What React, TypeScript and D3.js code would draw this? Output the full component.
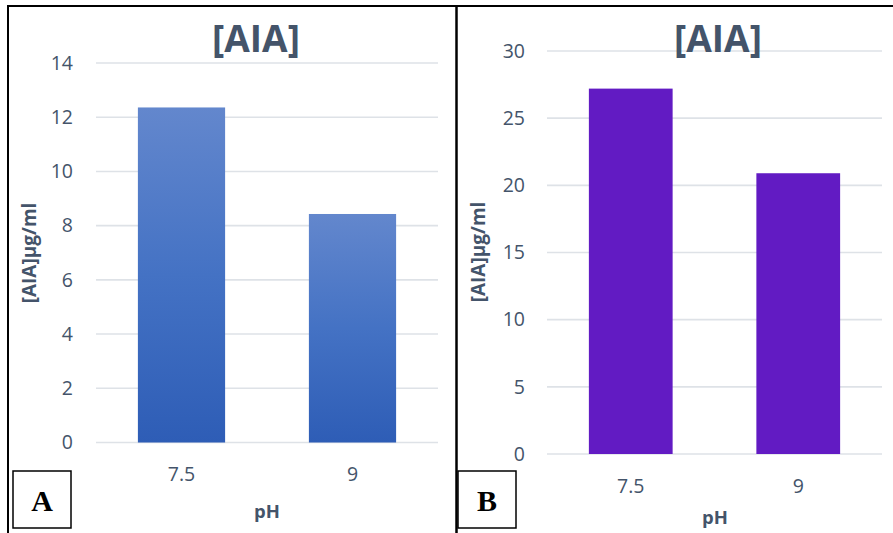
import React from "react";
import * as d3 from "d3";

// pH conditions on the x axis
const categories = ["7.5", "9"];
// IAA concentration (µg/ml) per panel
const panelAValues = [12.36, 8.43];
const panelBValues = [27.2, 20.9];
// Y axis ticks per panel
const panelATicks = [0, 2, 4, 6, 8, 10, 12, 14];
const panelBTicks = [0, 5, 10, 15, 20, 25, 30];

const W = 893;
const H = 533;
const TEXT = "#44546A";
const GRID = "#DEE2E7";
const SANS = "'Open Sans', 'Noto Sans', sans-serif";

type PanelProps = {
  values: number[];
  ticks: number[];
  yMax: number;
  x0: number;
  x1: number;
  yTop: number;
  yBottom: number;
  tickRight: number;
  xLabelY: number;
  titleX: number;
  axisTitleX: number;
  axisTitleY: number;
  yTitleX: number;
  yTitleY: number;
  fill: string;
  padding: number;
  letter: string;
  boxX: number;
};

function Panel(p: PanelProps) {
  const x = d3
    .scaleBand<string>()
    .domain(categories)
    .range([p.x0, p.x1])
    .paddingInner(p.padding)
    .paddingOuter(p.padding / 2);
  const y = d3.scaleLinear().domain([0, p.yMax]).range([p.yBottom, p.yTop]);

  return (
    <g>
      {p.ticks.map((t) => (
        <g key={t}>
          <line x1={p.x0} x2={p.x1} y1={y(t)} y2={y(t)} stroke={GRID} strokeWidth={1.6} />
          <text
            x={p.tickRight}
            y={y(t)}
            dy="0.35em"
            textAnchor="end"
            fontFamily={SANS}
            fontSize={19.5}
            fill={TEXT}
          >
            {t}
          </text>
        </g>
      ))}
      {categories.map((c, i) => (
        <rect
          key={c}
          x={x(c)}
          y={y(p.values[i])}
          width={x.bandwidth()}
          height={y(0) - y(p.values[i])}
          fill={p.fill}
        />
      ))}
      {categories.map((c) => (
        <text
          key={c}
          x={(x(c) as number) + x.bandwidth() / 2}
          y={p.xLabelY}
          dy="0.35em"
          textAnchor="middle"
          fontFamily={SANS}
          fontSize={19.5}
          fill={TEXT}
        >
          {c}
        </text>
      ))}
      <text
        x={p.titleX}
        y={39}
        dy="0.35em"
        textAnchor="middle"
        fontFamily={SANS}
        fontWeight="bold"
        fontSize={37}
        fill={TEXT}
      >
        [AIA]
      </text>
      <text
        x={p.axisTitleX}
        y={p.axisTitleY}
        dy="0.35em"
        textAnchor="middle"
        fontFamily={SANS}
        fontWeight="bold"
        fontSize={18.5}
        fill={TEXT}
      >
        pH
      </text>
      <text
        transform={`translate(${p.yTitleX},${p.yTitleY}) rotate(-90)`}
        dy="0.35em"
        textAnchor="middle"
        fontFamily={SANS}
        fontWeight="bold"
        fontSize={19}
        fill={TEXT}
      >
        [AIA]µg/ml
      </text>
      <rect
        x={p.boxX}
        y={471}
        width={58}
        height={57}
        fill="white"
        stroke="black"
        strokeWidth={1.5}
      />
      <text
        x={p.boxX + 29}
        y={500}
        dy="0.35em"
        textAnchor="middle"
        fontFamily="'Liberation Serif', 'DejaVu Serif', serif"
        fontWeight="bold"
        fontSize={30}
        fill="black"
      >
        {p.letter}
      </text>
    </g>
  );
}

export default function App() {
  return (
    <svg
      width={W}
      height={H}
      style={{ position: "absolute", left: 0, top: 0, background: "white" }}
    >
      <defs>
        <linearGradient id="blueBar" x1="0" y1="0" x2="0" y2="1">
          <stop offset="0%" stopColor="#6387CD" />
          <stop offset="50%" stopColor="#4472C4" />
          <stop offset="100%" stopColor="#2E5DB6" />
        </linearGradient>
      </defs>
      <rect x={0} y={0} width={W} height={H} fill="white" />
      <Panel
        values={panelAValues}
        ticks={panelATicks}
        yMax={14}
        x0={96}
        x1={438}
        yTop={63}
        yBottom={442.5}
        tickRight={73}
        xLabelY={474}
        titleX={256}
        axisTitleX={267}
        axisTitleY={512}
        yTitleX={29}
        yTitleY={253}
        fill="url(#blueBar)"
        padding={0.49}
        letter="A"
        boxX={13}
      />
      <Panel
        values={panelBValues}
        ticks={panelBTicks}
        yMax={30}
        x0={547}
        x1={882}
        yTop={51}
        yBottom={454}
        tickRight={525}
        xLabelY={486}
        titleX={718}
        axisTitleX={715}
        axisTitleY={518}
        yTitleX={478}
        yTitleY={252}
        fill="#621BC3"
        padding={0.5}
        letter="B"
        boxX={458}
      />
      {/* frame lines */}
      <line x1={8} x2={W} y1={6} y2={6} stroke="black" strokeWidth={2} />
      <line x1={8} x2={8} y1={5} y2={H} stroke="black" strokeWidth={2} />
      <line x1={456.5} x2={456.5} y1={5} y2={H} stroke="black" strokeWidth={2.5} />
    </svg>
  );
}
